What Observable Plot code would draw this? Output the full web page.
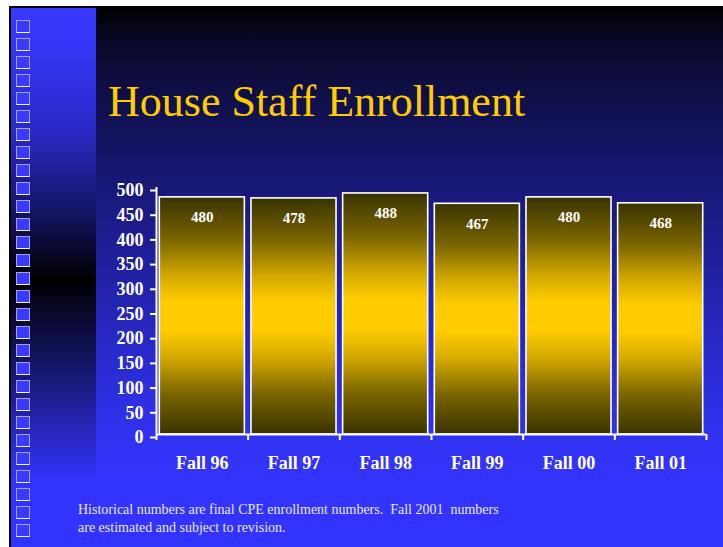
<!DOCTYPE html>
<html>
<head>
<meta charset="utf-8">
<script src="https://cdn.jsdelivr.net/npm/d3@7"></script>
<script src="https://cdn.jsdelivr.net/npm/@observablehq/plot@0.6"></script>
<style>
  html, body { margin: 0; padding: 0; background: #ffffff; }
  #page { position: relative; width: 723px; height: 547px; overflow: hidden; background: #ffffff; }
  #frame { position: absolute; left: 9px; top: 6px; width: 714px; height: 541px; background: #000; }
  #strip { position: absolute; left: 11px; top: 8px; width: 85px; height: 539px;
    background: linear-gradient(to bottom, #3a3aff 0px, #3535f5 40px, #2a2ac8 120px, #15156a 200px, #000000 272px, #0a0a30 310px, #16166a 360px, #2626b8 420px, #3333ff 475px, #3333ff 539px); }
  #main { position: absolute; left: 96px; top: 6px; width: 627px; height: 541px;
    background: linear-gradient(to bottom, #000000 0px, #0a0a2c 40px, #10104e 100px, #16166e 160px, #1d1d90 230px, #2424b4 300px, #2c2cd8 370px, #3232f4 440px, #3333ff 480px, #3333ff 541px); }
  .sq { position: absolute; left: 16px; width: 12px; height: 11px; background: #3a3aff;
    border: 1px solid rgba(200,200,255,0.75); border-bottom-color: rgba(255,255,255,0.95); }
  #title { position: absolute; left: 108px; top: 80px; font-family: "Liberation Serif", "Times New Roman", serif;
    font-size: 44px; line-height: 44px; color: #ffcc00; white-space: nowrap; }
  #chart { position: absolute; left: 96px; top: 170px; }
  #caption { position: absolute; left: 78px; top: 501px; font-family: "Liberation Serif", "Times New Roman", serif;
    font-size: 14px; line-height: 18px; color: #e8e8ff; white-space: pre; }
</style>
</head>
<body>
<div id="page">
  <div id="frame"></div>
  <div id="strip"></div>
  <div id="main"></div>
  <div id="squares"></div>
  <div id="title">House Staff Enrollment</div>
  <div id="chart"></div>
  <div id="caption">Historical numbers are final CPE enrollment numbers.  Fall 2001  numbers
are estimated and subject to revision.</div>
</div>
<script>
// ---- data ----
const categories = ["Fall 96", "Fall 97", "Fall 98", "Fall 99", "Fall 00", "Fall 01"];
const enrollment = [480, 478, 488, 467, 480, 468];
const yTicks = [0, 50, 100, 150, 200, 250, 300, 350, 400, 450, 500];

const data = categories.map((c, i) => ({i, category: c, value: enrollment[i]}));

// decorative squares on the left strip
const sqHost = document.getElementById("squares");
for (let k = 0; k < 29; k++) {
  const s = document.createElement("div");
  s.className = "sq";
  s.style.top = (20 + k * 18) + "px";
  sqHost.appendChild(s);
}

const font = "'Liberation Serif', 'Times New Roman', serif";

const chart = Plot.plot({
  width: 627,
  height: 310,
  marginLeft: 60,
  marginRight: 17,
  marginTop: 17,
  marginBottom: 46,
  style: {background: "transparent", color: "white", fontFamily: font, overflow: "visible"},
  x: {type: "linear", domain: [0, categories.length]},
  y: {domain: [0, 500], nice: false},
  marks: [
    Plot.rectY(data, {
      x1: "i", x2: d => d.i + 1, y: "value",
      insetLeft: 3.3, insetRight: 3.3,
      fill: "url(#barGrad)", stroke: "white", strokeWidth: 1.6
    }),
    Plot.text(data, {
      x: d => d.i + 0.5, y: "value", text: d => String(d.value),
      dy: 20, fill: "white", fontSize: 15, fontWeight: "bold"
    }),
    Plot.ruleY([0], {stroke: "white", strokeWidth: 2}),
    Plot.ruleX([0], {y1: 0, y2: 500, stroke: "white", strokeWidth: 2}),
    Plot.axisY({
      ticks: yTicks, tickSize: 6, tickPadding: 7, dy: 3,
      stroke: "white", strokeWidth: 2, fill: "white",
      fontSize: 18, fontWeight: "bold", label: null
    }),
    Plot.axisX({
      ticks: d3.range(categories.length + 1), tickSize: 6, tickFormat: () => "",
      stroke: "white", strokeWidth: 2, label: null
    }),
    Plot.axisX({
      ticks: categories.map((c, i) => i + 0.5), tickSize: 0, tickPadding: 22,
      tickFormat: d => categories[Math.floor(d)],
      fill: "white", fontSize: 18, fontWeight: "bold", label: null
    })
  ]
});

// gradient definition for bars
const ns = "http://www.w3.org/2000/svg";
const defs = document.createElementNS(ns, "defs");
const grad = document.createElementNS(ns, "linearGradient");
grad.setAttribute("id", "barGrad");
grad.setAttribute("x1", "0"); grad.setAttribute("y1", "0");
grad.setAttribute("x2", "0"); grad.setAttribute("y2", "1");
[[0, "#393300"], [0.18, "#7a6500"], [0.33, "#d2a800"], [0.44, "#ffcc00"], [0.56, "#ffcc00"],
 [0.68, "#d2a800"], [0.83, "#7a6500"], [1, "#393300"]].forEach(([o, c]) => {
  const st = document.createElementNS(ns, "stop");
  st.setAttribute("offset", o);
  st.setAttribute("stop-color", c);
  grad.appendChild(st);
});
defs.appendChild(grad);
chart.insertBefore(defs, chart.firstChild);

document.getElementById("chart").appendChild(chart);
</script>
</body>
</html>
